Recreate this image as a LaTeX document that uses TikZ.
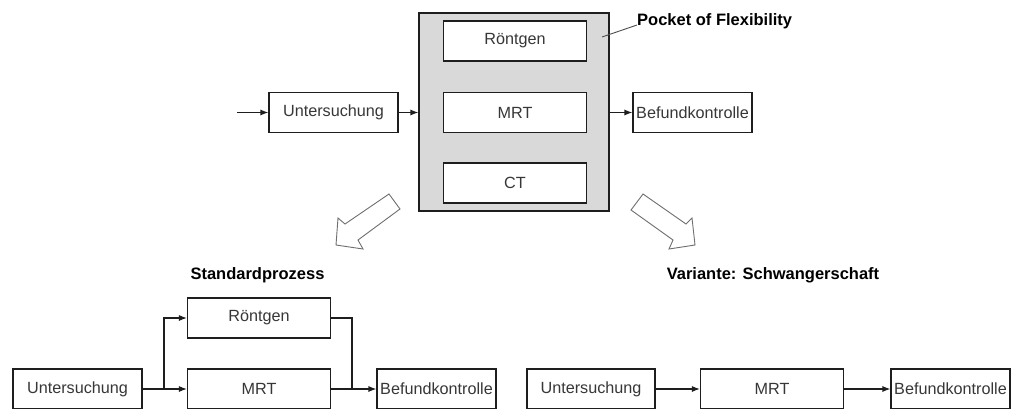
\documentclass[tikz,border=0pt]{standalone}
\usepackage{fontspec}
\setmainfont{Liberation Sans}
\usetikzlibrary{arrows.meta}
\definecolor{pocketgrey}{RGB}{217,217,217}
\definecolor{boxline}{RGB}{30,30,30}
\definecolor{txt}{RGB}{55,55,55}
\definecolor{hollow}{RGB}{110,110,110}
\begin{document}
\begin{tikzpicture}[x=1pt,y=-1pt,
  every node/.style={font=\fontsize{16.2}{19}\selectfont, text=txt, inner sep=0pt},
  procbox/.style={draw=boxline, line width=1.1pt, fill=white, minimum height=40pt},
  wideproc/.style={procbox, minimum width=143pt},
  entrybox/.style={procbox, minimum width=129pt},
  endbox/.style={procbox, minimum width=119pt},
  heading/.style={font=\fontsize{16.5}{19}\selectfont\bfseries, text=black},
  flow/.style={draw=boxline, line width=1.1pt, -{Latex[length=8pt,width=6pt]}},
  plainline/.style={draw=boxline, line width=1.1pt},
  blockarrow/.style={draw=hollow, line width=0.9pt, fill=white, line join=miter}
]
\useasboundingbox (0,0) rectangle (1011,408);
\clip (0,0) rectangle (1011,408);

% ---- flexible process fragment ----
\node[draw=boxline, line width=1.1pt, fill=pocketgrey, minimum width=190pt, minimum height=198pt] (pocket) at (514,112) {};
\node[wideproc] (r1) at (515,41) {Röntgen};
\node[wideproc] (m1) at (515,112.5) {MRT};
\node[wideproc] (c1) at (515,183) {CT};
\node[entrybox] (u1) at (333.5,112.5) {Untersuchung};
\node[endbox] (b1) at (692.5,112.5) {Befundkontrolle};
\coordinate (start) at (237,112.5);
\draw[flow] (start) -- (u1.west);
\draw[flow] (u1.east) -- (u1.east -| pocket.west);
\draw[flow] (b1.west -| pocket.east) -- (b1.west);

\node[heading, anchor=west] (pocketlabel) at (637,21) {Pocket of Flexibility};
\coordinate (leader) at (602,37);
\draw[draw=hollow!70!black, line width=0.9pt] (leader) -- ([yshift=-4pt]pocketlabel.west);

% ---- hollow block arrows ----
\draw[blockarrow] (389,194) -- (400,209) -- (358,240) -- (363,249) -- (336,245)
  -- (338,218) -- (345,224) -- cycle;
\draw[blockarrow] (643,194) -- (631,210) -- (673,240) -- (669,249) -- (695,245)
  -- (692,218) -- (686,224) -- cycle;

% ---- standard process ----
\node[heading] (std) at (257.5,275) {Standardprozess};
\node[wideproc] (r2) at (259,318) {Röntgen};
\node[wideproc] (m2) at (259,389) {MRT};
\node[entrybox] (u2) at (77.5,389) {Untersuchung};
\node[endbox] (b2) at (436.5,389) {Befundkontrolle};
\coordinate (split) at (164,389);
\coordinate (merge) at (352,389);
\draw[flow] (u2.east) -- (m2.west);
\draw[flow] (split) |- (r2.west);
\draw[plainline] (r2.east) -| (merge);
\draw[flow] (m2.east) -- (b2.west);

% ---- variant: pregnancy ----
\node[heading] (var) at (773,275) {Variante: Schwangerschaft};
\node[entrybox, minimum width=128pt] (u3) at (591,389) {Untersuchung};
\node[wideproc] (m3) at (772,389) {MRT};
\node[endbox] (b3) at (950.5,389) {Befundkontrolle};
\draw[flow] (u3.east) -- (m3.west);
\draw[flow] (m3.east) -- (b3.west);
\end{tikzpicture}
\end{document}
